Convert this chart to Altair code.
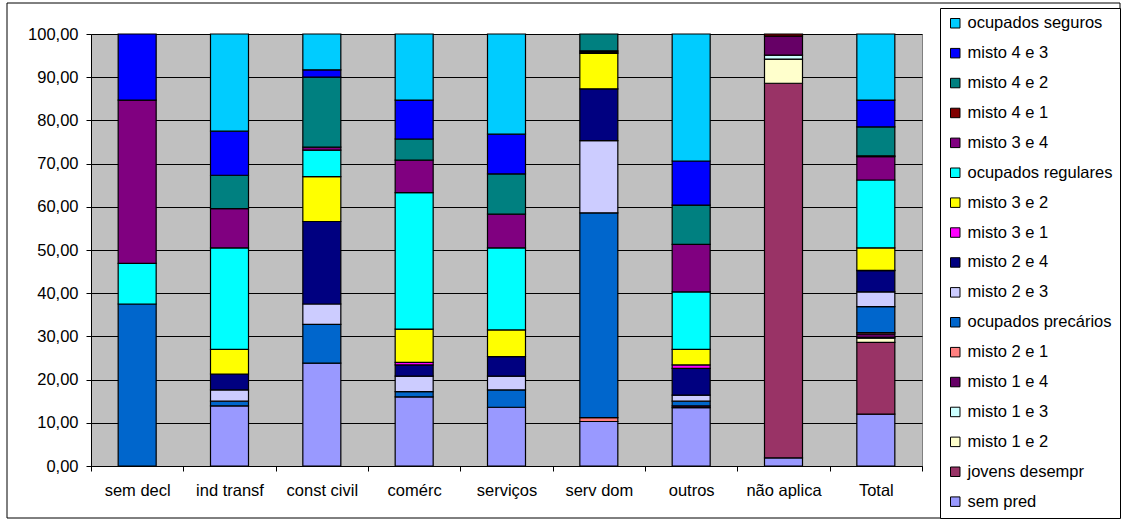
import altair as alt
import pandas as pd

# Categories (x axis)
categories = ["sem decl", "ind transf", "const civil", "comérc", "serviços",
              "serv dom", "outros", "não aplica", "Total"]

# Series, bottom of the stack first
series_names = [
    "sem pred", "jovens desempr", "misto 1 e 2", "misto 1 e 3", "misto 1 e 4",
    "misto 2 e 1", "ocupados precários", "misto 2 e 3", "misto 2 e 4",
    "misto 3 e 1", "misto 3 e 2", "ocupados regulares", "misto 3 e 4",
    "misto 4 e 1", "misto 4 e 2", "misto 4 e 3", "ocupados seguros",
]

series_colors = [
    "#9999FF", "#993366", "#FFFFCC", "#CCFFFF", "#660066",
    "#FF8080", "#0066CC", "#CCCCFF", "#000080",
    "#FF00FF", "#FFFF00", "#00FFFF", "#800080",
    "#800000", "#008080", "#0000FF", "#00CCFF",
]

# Percentages per category (same order as categories)
sem_pred           = [0.0, 13.9, 23.8, 16.0, 13.6, 10.3, 13.5, 1.9, 12.0]
jovens_desempr     = [0.0, 0.0, 0.0, 0.0, 0.0, 0.0, 0.0, 86.7, 16.6]
misto_1_e_2        = [0.0, 0.0, 0.0, 0.0, 0.0, 0.0, 0.0, 5.6, 1.0]
misto_1_e_3        = [0.0, 0.0, 0.0, 0.0, 0.0, 0.0, 0.0, 0.9, 0.2]
misto_1_e_4        = [0.0, 0.0, 0.0, 0.0, 0.0, 0.0, 0.4, 4.4, 0.8]
misto_2_e_1        = [0.0, 0.0, 0.0, 0.0, 0.0, 0.9, 0.0, 0.0, 0.3]
ocupados_precarios = [37.5, 1.1, 9.0, 1.2, 4.0, 47.4, 1.1, 0.0, 6.0]
misto_2_e_3        = [0.0, 2.6, 4.7, 3.6, 3.2, 16.7, 1.4, 0.0, 3.4]
misto_2_e_4        = [0.0, 3.7, 19.1, 2.6, 4.5, 12.0, 6.2, 0.0, 4.9]
misto_3_e_1        = [0.0, 0.0, 0.0, 0.6, 0.0, 0.0, 0.8, 0.0, 0.1]
misto_3_e_2        = [0.0, 5.7, 10.4, 7.7, 6.2, 8.2, 3.6, 0.0, 5.2]
ocupados_regulares = [9.4, 23.5, 6.1, 31.6, 19.0, 0.0, 13.3, 0.0, 15.7]
misto_3_e_4        = [37.8, 9.1, 0.7, 7.5, 7.8, 0.3, 11.0, 0.0, 5.4]
misto_4_e_1        = [0.0, 0.0, 0.0, 0.0, 0.0, 0.3, 0.0, 0.5, 0.2]
misto_4_e_2        = [0.0, 7.7, 16.2, 4.9, 9.3, 3.9, 9.1, 0.0, 6.7]
misto_4_e_3        = [15.3, 10.2, 1.7, 9.0, 9.2, 0.0, 10.2, 0.0, 6.2]
ocupados_seguros   = [0.0, 22.5, 8.3, 15.3, 23.2, 0.0, 29.4, 0.0, 15.3]

series_values = [
    sem_pred, jovens_desempr, misto_1_e_2, misto_1_e_3, misto_1_e_4,
    misto_2_e_1, ocupados_precarios, misto_2_e_3, misto_2_e_4,
    misto_3_e_1, misto_3_e_2, ocupados_regulares, misto_3_e_4,
    misto_4_e_1, misto_4_e_2, misto_4_e_3, ocupados_seguros,
]

y_ticks = [0, 10, 20, 30, 40, 50, 60, 70, 80, 90, 100]

rows = []
for idx, (name, vals) in enumerate(zip(series_names, series_values)):
    for cat, v in zip(categories, vals):
        if v > 0:
            rows.append({"categoria": cat, "serie": name, "valor": v, "ordem": idx})
df = pd.DataFrame(rows)

W, H = 831, 432
FONT = "Liberation Sans"
FS = 16.5

bars = alt.Chart(df).mark_bar(size=38, stroke="black", strokeWidth=1.2).encode(
    x=alt.X("categoria:N", sort=categories, title=None,
            scale=alt.Scale(paddingInner=0, paddingOuter=0),
            axis=alt.Axis(labelAngle=0, tickBand="extent", grid=False,
                          tickSize=5, labelPadding=11, domainColor="black",
                          tickColor="black")),
    y=alt.Y("valor:Q", stack="zero", title=None,
            scale=alt.Scale(domain=[0, 100], nice=False),
            axis=alt.Axis(values=y_ticks, tickSize=5, labelPadding=8,
                          labelExpr="replace(format(datum.value, '.2f'), '.', ',')",
                          gridColor="black", gridOpacity=1, gridWidth=1,
                          domainColor="black", tickColor="black")),
    color=alt.Color("serie:N",
                    scale=alt.Scale(domain=series_names[::-1], range=series_colors[::-1]),
                    legend=alt.Legend(title=None, orient="none", legendX=849, legendY=-26,
                                      symbolType="square", symbolSize=90,
                                      symbolStrokeColor="black", symbolStrokeWidth=1,
                                      labelFont=FONT, labelFontSize=FS, labelColor="black",
                                      labelOffset=4, rowPadding=12.9, padding=7,
                                      strokeColor="black", fillColor="white",
                                      labelLimit=220)),
    order=alt.Order("ordem:Q", sort="ascending"),
)

# Outer frame around the whole figure
frame = alt.Chart(pd.DataFrame({"k": [0]})).mark_rect(
    fillOpacity=0, stroke="black", strokeWidth=1
).encode(
    x=alt.value(-84), x2=alt.value(1029), y=alt.value(-31), y2=alt.value(484)
)

chart = alt.layer(bars, frame).properties(
    width=W, height=H,
    autosize=alt.AutoSizeParams(type="none"),
    padding={"left": 91, "top": 34, "right": 199, "bottom": 53},
    background="white",
).configure_view(
    fill="#C0C0C0", stroke="#808080", strokeWidth=1
).configure_axis(
    labelFont=FONT, labelFontSize=FS, labelColor="black"
)

chart.save("out.html", embed_options={"renderer": "svg", "actions": False})
